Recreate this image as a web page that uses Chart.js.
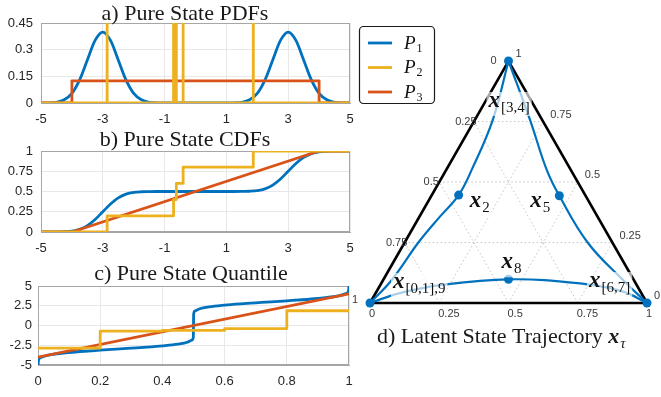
<!DOCTYPE html>
<html>
<head>
<meta charset="utf-8">
<script src="https://cdn.jsdelivr.net/npm/chart.js@4.4.0/dist/chart.umd.min.js"></script>
<style>
  html, body { margin: 0; padding: 0; background: #fff; }
  #wrap { position: relative; width: 661px; height: 397px; overflow: hidden; }
  #wrap canvas { position: absolute; left: 0; top: 0; }
</style>
</head>
<body>
<div id="wrap">
  <canvas id="pdf-chart" width="661" height="397"></canvas>
  <canvas id="cdf-chart" width="661" height="397"></canvas>
  <canvas id="quant-chart" width="661" height="397"></canvas>
  <canvas id="tern-chart" width="661" height="397"></canvas>
</div>
<script>
// Pure state distributions P1..P3 and the latent trajectory on the simplex

// ---- a) / b) values on a common x grid ----
const xGrid = [-5, -4.75, -4.5, -4.25, -4, -3.75, -3.5, -3.25, -3, -2.75, -2.5, -2.25, -2, -1.75, -1.5, -1.25,
    -1, -0.75, -0.5, -0.25, 0, 0.25, 0.5, 0.75, 1,
    1.25, 1.5, 1.75, 2, 2.25, 2.5, 2.75, 3, 3.25, 3.5, 3.75, 4, 4.25, 4.5, 4.75, 5];
const p1Pdf = [0, 0.001, 0.004, 0.018, 0.054, 0.13, 0.242, 0.352, 0.399, 0.352, 0.242, 0.13, 0.054, 0.018, 0.004, 0.001,
    0, 0, 0, 0, 0, 0, 0, 0, 0,
    0.001, 0.004, 0.018, 0.054, 0.13, 0.242, 0.352, 0.399, 0.352, 0.242, 0.13, 0.054, 0.018, 0.004, 0.001, 0];
const p1Cdf = [0, 0, 0.001, 0.003, 0.011, 0.033, 0.079, 0.154, 0.25, 0.346, 0.421, 0.467, 0.489, 0.497, 0.499, 0.5,
    0.5, 0.5, 0.5, 0.5, 0.5, 0.5, 0.5, 0.5, 0.5,
    0.5, 0.501, 0.503, 0.511, 0.533, 0.579, 0.654, 0.75, 0.846, 0.921, 0.967, 0.989, 0.997, 0.999, 1, 1];

const p2Atoms = [-2.86, -0.71, -0.62, -0.4, 1.87];
const p2CdfLevels = [0.2, 0.4, 0.6, 0.8, 1];
const p2SpikeTop = 1;          // Dirac masses run past the top of the axis

const p3Range = [-4, 4];
const p3Density = 0.125;

// ---- c) quantile functions ----
const qLevels = [0, 0.002, 0.01, 0.03, 0.05, 0.1, 0.15, 0.2, 0.25, 0.3, 0.35, 0.4, 0.45, 0.48, 0.495, 0.4995,
    0.5, 0.5005, 0.505, 0.52, 0.55, 0.6, 0.65, 0.7, 0.75, 0.8, 0.85, 0.9, 0.95, 0.97, 0.99, 0.998, 1];
const p1Quant = [-5, -4.33, -4.03, -3.78, -3.64, -3.42, -3.26, -3.13, -3, -2.87, -2.74, -2.58, -2.36, -2.12, -1.84, -1.45,
    0, 1.45, 1.84, 2.12, 2.36, 2.58, 2.74, 2.87, 3, 3.13, 3.26, 3.42, 3.64, 3.78, 4.03, 4.33, 5];

// ---- tick labels ----
const distXTicks = [-5, -3, -1, 1, 3, 5];
const pdfYTicks = [0, 0.15, 0.3, 0.45];
const cdfYTicks = [0, 0.25, 0.5, 0.75, 1];
const quantXTicks = [0, 0.2, 0.4, 0.6, 0.8, 1];
const quantYTicks = [-5, -2.5, 0, 2.5, 5];

// ---- d) trajectory, as weights of the top and bottom-right vertices ----
const leftArcTop = [0, 0.095, 0.252, 0.357, 0.446, 0.55, 0.756, 1];
const leftArcRight = [0, 0.031, 0.05, 0.074, 0.097, 0.092, 0.065, 0];
const rightArcTop = [1, 0.756, 0.55, 0.443, 0.248, 0.095, 0];
const rightArcRight = [0, 0.2, 0.363, 0.462, 0.663, 0.866, 1];
const bottomArcTop = [0, 0.047, 0.081, 0.098, 0.074, 0.041, 0];
const bottomArcRight = [1, 0.89, 0.718, 0.451, 0.216, 0.087, 0];
const markerTop = [0, 0.446, 1, 0.443, 0, 0.098];
const markerRight = [0, 0.097, 0, 0.462, 1, 0.451];
const markerSubs = ['[0,1],9', '2', '[3,4]', '5', '[6,7]', '8'];
const ternTicks = [0, 0.25, 0.5, 0.75, 1];
const ternTickText = ['0', '0.25', '0.5', '0.75', '1'];
const ternGridLevels = [0.25, 0.5, 0.75];

const seriesSubs = ['1', '2', '3'];
const C1 = '#0072BD', C2 = '#EDB120', C3 = '#D95319';
const seriesColors = [C1, C2, C3];

const SERIF = '"Liberation Serif", "Times New Roman", serif';
const SANS = '"Liberation Sans", Arial, sans-serif';
const GRID = '#e8e8e8';
const AXIS = '#a6a6a6';
const TICK = '#262626';

function xy(xs, ys) {
    return xs.map((x, i) => ({ x: x, y: ys[i] }));
}

function axis(min, max, ticks, isX, pad, width) {
    return {
        type: 'linear',
        min: min,
        max: max,
        grid: { color: GRID, drawTicks: false },
        border: { color: AXIS },
        ticks: {
            color: TICK,
            font: { family: SANS, size: 13 },
            padding: pad,
            autoSkip: false,
            maxRotation: 0,
            callback: v => String(v)
        },
        afterBuildTicks: s => { s.ticks = ticks.map(v => ({ value: v })); },
        afterFit: s => {
            if (isX) {
                s.height = 22; s.paddingLeft = 0; s.paddingRight = 0;
            } else {
                s.width = width; s.paddingTop = 0; s.paddingBottom = 0;
            }
        }
    };
}

const boxBorder = {
    id: 'boxBorder',
    beforeDatasetsDraw(chart) {
        const a = chart.chartArea, ctx = chart.ctx;
        ctx.save();
        ctx.strokeStyle = AXIS;
        ctx.lineWidth = 1;
        ctx.strokeRect(Math.round(a.left) + 0.5, Math.round(a.top) + 0.5,
            Math.round(a.right - a.left) - 1, Math.round(a.bottom - a.top) - 1);
        ctx.restore();
    }
};

function titleText(text, cx, baseline) {
    return {
        id: 'panelTitle',
        afterDraw(chart) {
            const ctx = chart.ctx;
            ctx.save();
            ctx.font = '22px ' + SERIF;
            ctx.fillStyle = '#1a1a1a';
            ctx.textAlign = 'center';
            ctx.textBaseline = 'alphabetic';
            ctx.fillText(text, cx, baseline);
            ctx.restore();
        }
    };
}

const legendBox = {
    id: 'legendBox',
    afterDraw(chart) {
        const ctx = chart.ctx;
        ctx.save();
        ctx.beginPath();
        if (ctx.roundRect) ctx.roundRect(359.5, 26.5, 75, 77, 4); else ctx.rect(359.5, 26.5, 75, 77);
        ctx.fillStyle = '#fff';
        ctx.fill();
        ctx.strokeStyle = '#1a1a1a';
        ctx.lineWidth = 1.2;
        ctx.stroke();
        const rows = [43, 67.5, 92];
        rows.forEach((y, i) => {
            ctx.strokeStyle = seriesColors[i];
            ctx.lineWidth = 2.8;
            ctx.beginPath();
            ctx.moveTo(368, y);
            ctx.lineTo(392, y);
            ctx.stroke();
            ctx.fillStyle = '#111';
            ctx.textBaseline = 'alphabetic';
            ctx.font = 'italic 19px ' + SERIF;
            ctx.fillText('P', 404, y + 5.5);
            const w = ctx.measureText('P').width;
            ctx.font = '12px ' + SERIF;
            ctx.fillText(seriesSubs[i], 404 + w + 1, y + 8.5);
        });
        ctx.restore();
    }
};

function makePanel(id, cfg) {
    return new Chart(document.getElementById(id), {
        type: 'line',
        data: { datasets: cfg.datasets },
        options: {
            responsive: false,
            animation: false,
            events: [],
            layout: { padding: cfg.padding },
            plugins: { legend: { display: false }, tooltip: { enabled: false } },
            elements: {
                point: { radius: 0 },
                line: { borderWidth: 2.8, borderJoinStyle: 'round', fill: false }
            },
            scales: {
                x: axis(cfg.xTicks[0], cfg.xTicks[cfg.xTicks.length - 1], cfg.xTicks, true, 9),
                y: axis(cfg.yTicks[0], cfg.yTicks[cfg.yTicks.length - 1], cfg.yTicks, false, cfg.yPad, cfg.yWidth)
            }
        },
        plugins: [boxBorder].concat(cfg.extra)
    });
}

// a) PDFs
const p2PdfPoints = [{ x: -5, y: 0 }];
p2Atoms.forEach(a => {
    p2PdfPoints.push({ x: a, y: 0 }, { x: a, y: p2SpikeTop }, { x: a, y: 0 });
});
p2PdfPoints.push({ x: 5, y: 0 });

const p3PdfPoints = [
    { x: -5, y: 0 }, { x: p3Range[0], y: 0 }, { x: p3Range[0], y: p3Density },
    { x: p3Range[1], y: p3Density }, { x: p3Range[1], y: 0 }, { x: 5, y: 0 }
];

makePanel('pdf-chart', {
    padding: { left: 0, right: 311, top: 23, bottom: 272 },
    xTicks: distXTicks, yTicks: pdfYTicks, yWidth: 41, yPad: 8,
    datasets: [
        { label: 'P2', data: p2PdfPoints, borderColor: C2, order: 0 },
        { label: 'P3', data: p3PdfPoints, borderColor: C3, order: 1 },
        { label: 'P1', data: xy(xGrid, p1Pdf), borderColor: C1, cubicInterpolationMode: 'monotone', order: 2 }
    ],
    extra: [titleText('a) Pure State PDFs', 185, 20), legendBox]
});

// b) CDFs
const p2CdfPoints = [{ x: -5, y: 0 }].concat(xy(p2Atoms, p2CdfLevels), [{ x: 5, y: 1 }]);
const p3CdfPoints = [{ x: -5, y: 0 }, { x: p3Range[0], y: 0 }, { x: p3Range[1], y: 1 }, { x: 5, y: 1 }];

makePanel('cdf-chart', {
    padding: { left: 0, right: 311, top: 151, bottom: 143 },
    xTicks: distXTicks, yTicks: cdfYTicks, yWidth: 41, yPad: 8,
    datasets: [
        { label: 'P2', data: p2CdfPoints, borderColor: C2, stepped: 'before', order: 0 },
        { label: 'P3', data: p3CdfPoints, borderColor: C3, order: 1 },
        { label: 'P1', data: xy(xGrid, p1Cdf), borderColor: C1, cubicInterpolationMode: 'monotone', order: 2 }
    ],
    extra: [titleText('b) Pure State CDFs', 185, 146)]
});

// c) quantiles
const p2QuantPoints = [{ x: 0, y: p2Atoms[0] }];
for (let i = 1; i < p2Atoms.length; i++) {
    p2QuantPoints.push({ x: p2CdfLevels[i - 1], y: p2Atoms[i] });
}
p2QuantPoints.push({ x: 1, y: p2Atoms[p2Atoms.length - 1] });

makePanel('quant-chart', {
    padding: { left: 0, right: 312, top: 286, bottom: 10 },
    xTicks: quantXTicks, yTicks: quantYTicks, yWidth: 38, yPad: 6,
    datasets: [
        { label: 'P2', data: p2QuantPoints, borderColor: C2, stepped: 'before', order: 0 },
        { label: 'P3', data: [{ x: 0, y: p3Range[0] }, { x: 1, y: p3Range[1] }], borderColor: C3, order: 1 },
        { label: 'P1', data: xy(qLevels, p1Quant), borderColor: C1, cubicInterpolationMode: 'monotone', order: 2 }
    ],
    extra: [titleText('c) Pure State Quantile', 191, 280)]
});

// d) ternary plot: x = right + top / 2, y = top
function tern(tops, rights) {
    return tops.map((t, i) => ({ x: rights[i] + t / 2, y: t }));
}

const gridSets = [];
ternGridLevels.forEach(g => {
    // constant top weight, constant right weight, constant left weight
    gridSets.push(tern([g, g], [0, 1 - g]));
    gridSets.push(tern([0, 1 - g], [g, g]));
    gridSets.push(tern([0, 1 - g], [1 - g, 0]));
});

const ternLabels = {
    id: 'ternLabels',
    afterDatasetsDraw(chart) {
        const ctx = chart.ctx;
        const px = (t, r) => ({
            x: chart.scales.x.getPixelForValue(r + t / 2),
            y: chart.scales.y.getPixelForValue(t)
        });
        ctx.save();
        ctx.font = '11px ' + SANS;
        ctx.fillStyle = '#3a3a3a';
        ctx.textBaseline = 'middle';
        ternTicks.forEach((t, i) => {
            let p = px(0, t);
            ctx.textAlign = 'left';
            ctx.fillText(ternTickText[i], p.x - 1, p.y + 11);
            p = px(t, 1 - t);
            ctx.fillText(ternTickText[i], p.x + 7, p.y - 7);
            p = px(1 - t, 0);
            ctx.textAlign = 'center';
            const vertex = (t === 0 || t === 1);
            ctx.fillText(ternTickText[i], p.x + (vertex ? -15 : -8), p.y + (t === 1 ? -3 : 0));
        });

        // state labels, placed beside their markers
        const offsets = [[23, -15], [11, 12], [-20, 46], [-29, 11], [-58, -16], [-7, -11]];
        ctx.textAlign = 'left';
        ctx.textBaseline = 'alphabetic';
        markerSubs.forEach((sub, i) => {
            const m = px(markerTop[i], markerRight[i]);
            const x0 = m.x + offsets[i][0], base = m.y + offsets[i][1];
            ctx.font = 'bold italic 23px ' + SERIF;
            const wMain = ctx.measureText('x').width;
            ctx.font = '15px ' + SERIF;
            const wSub = ctx.measureText(sub).width;
            ctx.fillStyle = 'rgba(255,255,255,0.65)';
            ctx.fillRect(x0 - 2, base - 15, wMain + wSub + 5, 24);
            ctx.fillStyle = '#111';
            ctx.font = 'bold italic 23px ' + SERIF;
            ctx.fillText('x', x0, base);
            ctx.font = '15px ' + SERIF;
            ctx.fillText(sub, x0 + wMain + 1, base + 5);
        });

        // title
        let x = 377;
        const base = 343;
        ctx.fillStyle = '#1a1a1a';
        ctx.font = '22px ' + SERIF;
        const t1 = 'd) Latent State Trajectory ';
        ctx.fillText(t1, x, base);
        x += ctx.measureText(t1).width;
        ctx.font = 'bold italic 22px ' + SERIF;
        ctx.fillText('x', x, base);
        x += ctx.measureText('x').width;
        ctx.font = 'italic 15px ' + SERIF;
        ctx.fillText('\u03c4', x + 1, base + 5);
        ctx.restore();
    }
};

new Chart(document.getElementById('tern-chart'), {
    type: 'line',
    data: {
        datasets: [
            { data: tern(markerTop, markerRight), showLine: false, pointRadius: 4.5,
              pointBackgroundColor: C1, pointBorderWidth: 0, order: 0 },
            { data: tern(leftArcTop, leftArcRight), borderColor: C1, borderWidth: 2.2, tension: 0.4, order: 1 },
            { data: tern(rightArcTop, rightArcRight), borderColor: C1, borderWidth: 2.2, tension: 0.4, order: 1 },
            { data: tern(bottomArcTop, bottomArcRight), borderColor: C1, borderWidth: 2.2, tension: 0.4, order: 1 },
            { data: tern([0, 1, 0, 0], [0, 0, 1, 0]), borderColor: '#000', borderWidth: 2.6, order: 2 }
        ].concat(gridSets.map(d => ({
            data: d, borderColor: '#c4c4c4', borderWidth: 1, borderDash: [1.5, 2.5], order: 3
        })))
    },
    options: {
        responsive: false,
        animation: false,
        events: [],
        layout: { padding: { left: 370, right: 14, top: 61, bottom: 94 } },
        plugins: { legend: { display: false }, tooltip: { enabled: false } },
        elements: { point: { radius: 0 }, line: { fill: false, borderJoinStyle: 'miter' } },
        datasets: { line: { clip: false } },
        scales: {
            x: { type: 'linear', min: 0, max: 1, display: false },
            y: { type: 'linear', min: 0, max: 1, display: false }
        }
    },
    plugins: [ternLabels]
});
</script>
</body>
</html>
